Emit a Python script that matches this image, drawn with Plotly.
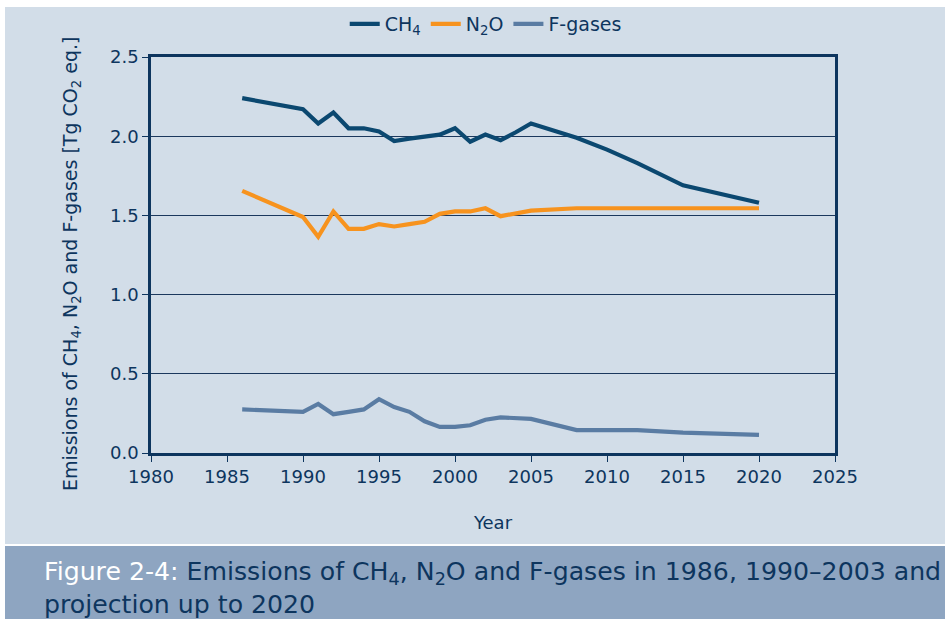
import plotly.graph_objects as go

years = [1986, 1990, 1991, 1992, 1993, 1994, 1995, 1996, 1997, 1998, 1999,
         2000, 2001, 2002, 2003, 2004, 2005, 2008, 2010, 2012, 2015, 2020]
ch4 = [2.24, 2.17, 2.08, 2.15, 2.05, 2.05, 2.03, 1.97, 1.985, 2.00, 2.01,
       2.05, 1.965, 2.01, 1.975, 2.025, 2.08, 1.99, 1.915, 1.83, 1.69, 1.58]
n2o = [1.655, 1.49, 1.365, 1.525, 1.415, 1.415, 1.445, 1.43, 1.445, 1.46, 1.51,
       1.525, 1.525, 1.545, 1.495, 1.515, 1.53, 1.545, 1.545, 1.545, 1.545, 1.545]
fgases = [0.275, 0.26, 0.31, 0.245, 0.26, 0.275, 0.34, 0.29, 0.26, 0.20, 0.165,
          0.165, 0.175, 0.21, 0.225, 0.22, 0.215, 0.145, 0.145, 0.145, 0.128, 0.114]

series_names = ["CH<sub>4</sub>", "N<sub>2</sub>O", "F-gases"]
series_colors = ["#0b4870", "#f7931e", "#5a7ca3"]
x_ticks = [1980, 1985, 1990, 1995, 2000, 2005, 2010, 2015, 2020, 2025]
y_ticks = [0.0, 0.5, 1.0, 1.5, 2.0, 2.5]

NAVY = "#0d355e"
BAND = "#d2dde8"
CAP = "#8ea5c1"
W, H = 945, 619
L, R, T, B = 151, 110, 57, 166
pw, ph = W - L - R, H - T - B

def px(x):
    return (x - L) / pw

def py(y):
    return (H - B - y) / ph

fig = go.Figure()
for name, vals, col in zip(series_names, [ch4, n2o, fgases], series_colors):
    fig.add_trace(go.Scatter(x=years, y=vals, mode="lines", name=name,
                             line=dict(color=col, width=4.2)))

font_main = "DejaVu Sans"
fig.update_layout(
    width=W, height=H,
    margin=dict(l=L, r=R, t=T, b=B, pad=0, autoexpand=False),
    paper_bgcolor="white",
    plot_bgcolor=BAND,
    font=dict(family=font_main, color=NAVY, size=18),
    showlegend=True,
    legend=dict(orientation="h", x=0.514, xref="container",
                xanchor="center", y=1 - 24 / H, yref="container", yanchor="middle",
                font=dict(size=19, color=NAVY), bgcolor="rgba(0,0,0,0)",
                itemwidth=30, tracegroupgap=0),
    xaxis=dict(range=[1980, 2025], tickvals=x_ticks, ticktext=[str(v) for v in x_ticks],
               showgrid=False, zeroline=False, showline=True, linecolor=NAVY,
               linewidth=2.5, mirror=True, ticks="outside", ticklen=6, tickcolor=NAVY,
               tickwidth=1, tickfont=dict(size=18, color=NAVY),
               title=dict(text="Year", font=dict(size=18, color=NAVY), standoff=31)),
    yaxis=dict(range=[0, 2.5], tickvals=y_ticks, ticktext=[f"{v:.1f}" for v in y_ticks],
               showgrid=True, gridcolor="#1b385d", gridwidth=1.2, zeroline=False,
               showline=True, linecolor=NAVY, linewidth=2.5, mirror=True,
               ticks="outside", ticklen=6, tickcolor=NAVY, tickwidth=1,
               tickfont=dict(size=18, color=NAVY)),
    shapes=[
        dict(type="rect", xref="paper", yref="paper", x0=px(5), x1=px(W + 5),
             y0=py(544), y1=py(7), fillcolor=BAND, line=dict(width=0), layer="below"),
        dict(type="rect", xref="paper", yref="paper", x0=px(5), x1=px(W + 5),
             y0=py(H + 5), y1=py(546), fillcolor=CAP, line=dict(width=0), layer="below"),
    ],
    annotations=[
        dict(xref="paper", yref="paper", x=px(71), y=py(264), xanchor="center", yanchor="middle",
             textangle=-90, showarrow=False,
             text="Emissions of CH<sub>4</sub>, N<sub>2</sub>O and F-gases [Tg CO<sub>2</sub> eq.]",
             font=dict(family=font_main, size=19, color=NAVY)),
        dict(xref="paper", yref="paper", x=px(42), y=py(555), xanchor="left", yanchor="top",
             align="left", showarrow=False,
             text="<span style='color:white'>Figure 2-4:</span> Emissions of CH<sub>4</sub>, N<sub>2</sub>O and F-gases in 1986, 1990–2003 and<br>projection up to 2020",
             font=dict(family="DejaVu Sans", size=25.2, color=NAVY)),
    ],
)

fig.write_html("out.html", config={"displayModeBar": False},
               post_script="document.body.style.margin='0';document.body.style.padding='0';document.body.style.overflow='hidden';")
